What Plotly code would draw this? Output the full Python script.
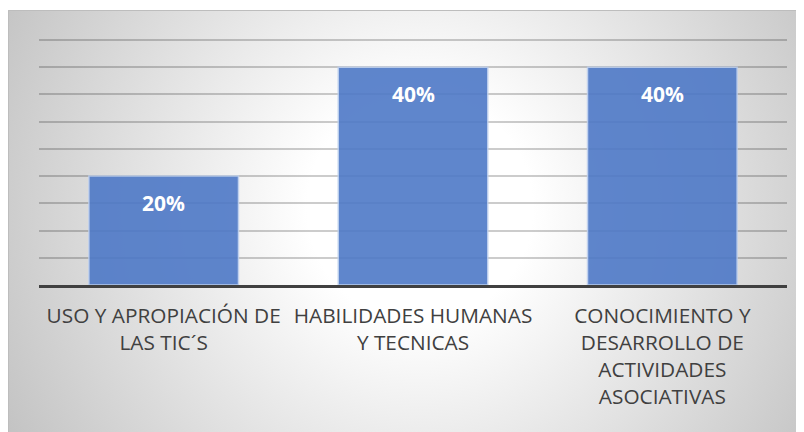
import base64
import plotly.graph_objects as go

# ---- data ----
categories = [
    "USO Y APROPIACIÓN DE<br>LAS TIC´S",
    "HABILIDADES HUMANAS<br>Y TECNICAS",
    "CONOCIMIENTO Y<br>DESARROLLO DE<br>ACTIVIDADES<br>ASOCIATIVAS",
]
values = [20, 40, 40]
value_labels = [f"{v}%" for v in values]

# ---- layout constants (figure coords; page adds an 8px body margin) ----
W, H = 796, 424
ML, MR, MT, MB = 31, 17, 29, 147
PW, PH = W - ML - MR, H - MT - MB
FX0, FY0 = 0, 2  # chart frame top-left
Y_TOP = 45 * PH / 245.0  # 45% gridline sits 245px above the baseline

fw, fh = W - FX0, H - FY0
svg = f'''<svg xmlns="http://www.w3.org/2000/svg" width="{fw}" height="{fh}" viewBox="0 0 {fw} {fh}">
<defs><radialGradient id="g" gradientUnits="userSpaceOnUse" cx="{412-FX0}" cy="{200-FY0}" r="470">
<stop offset="0" stop-color="#ffffff"/><stop offset="0.24" stop-color="#ffffff"/>
<stop offset="1" stop-color="#c3c3c3"/></radialGradient></defs>
<rect x="0" y="0" width="{fw}" height="{fh}" fill="url(#g)"/>
<path d="M0.5 {fh} V0.5 H{fw}" fill="none" stroke="#bdbdbd" stroke-width="1"/>
</svg>'''
src = "data:image/svg+xml;base64," + base64.b64encode(svg.encode()).decode()

fig = go.Figure()
fig.add_trace(go.Bar(
    x=categories, y=values,
    marker=dict(color="rgb(78,121,199)", opacity=0.9,
                line=dict(color="rgba(190,208,240,0.9)", width=1.5)),
    hoverinfo="skip",
))

for c, v, t in zip(categories, values, value_labels):
    fig.add_annotation(x=c, y=v, text=f"<b>{t}</b>", showarrow=False,
                       yshift=-27, font=dict(family="Open Sans", size=21, color="white"))

fig.add_layout_image(dict(
    source=src, xref="paper", yref="paper",
    x=(FX0 - ML) / PW, y=(H - MB - FY0) / PH,
    sizex=fw / PW, sizey=fh / PH,
    xanchor="left", yanchor="top", sizing="stretch", layer="below",
))

fig.update_layout(
    width=W, height=H,
    margin=dict(l=ML, r=MR, t=MT, b=MB, pad=0),
    paper_bgcolor="white", plot_bgcolor="rgba(0,0,0,0)",
    bargap=0.4, showlegend=False,
    font=dict(family="Open Sans", color="#404040"),
)
fig.update_xaxes(
    showline=True, linecolor="#404040", linewidth=3,
    ticks="", showgrid=False, ticklabelstandoff=10,
    tickangle=0, automargin=False,
    tickfont=dict(family="Open Sans", size=20.8, color="#404040"),
)
fig.update_yaxes(
    range=[0, Y_TOP], dtick=5, showticklabels=False, zeroline=False,
    showgrid=True, gridcolor="rgba(0,0,0,0.2)", gridwidth=1.5,
    automargin=False,
)

fig.write_html("out.html")
